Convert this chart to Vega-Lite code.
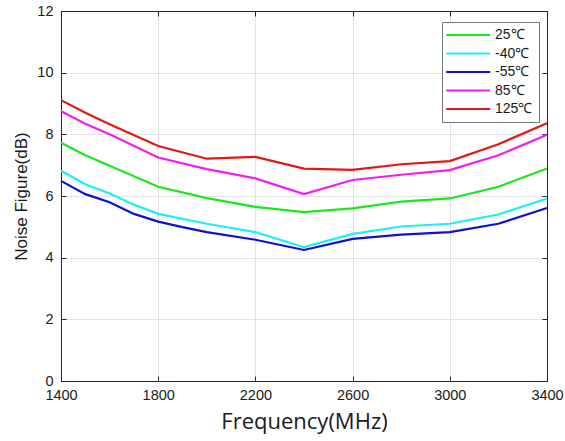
{
  "$schema": "https://vega.github.io/schema/vega-lite/v6.json",
  "autosize": "none",
  "width": 486,
  "height": 370,
  "padding": {"left": 61, "top": 11, "right": 18, "bottom": 60},
  "background": "white",
  "config": {
    "view": {"stroke": "#262626", "strokeWidth": 1},
    "axis": {
      "labelFont": "Liberation Sans",
      "labelFontSize": 14.5,
      "labelColor": "#1a1a1a",
      "domainColor": "#262626",
      "tickColor": "#262626",
      "gridColor": "#e3e3e3",
      "gridWidth": 1,
      "titleColor": "#1a1a1a",
      "titleFontWeight": "normal"
    }
  },
  "data": {
    "values": [
      {"f": 1400, "nf": 7.73, "t": "25℃"},
      {"f": 1500, "nf": 7.32, "t": "25℃"},
      {"f": 1600, "nf": 6.98, "t": "25℃"},
      {"f": 1800, "nf": 6.30, "t": "25℃"},
      {"f": 2000, "nf": 5.93, "t": "25℃"},
      {"f": 2200, "nf": 5.65, "t": "25℃"},
      {"f": 2400, "nf": 5.48, "t": "25℃"},
      {"f": 2600, "nf": 5.60, "t": "25℃"},
      {"f": 2800, "nf": 5.82, "t": "25℃"},
      {"f": 3000, "nf": 5.92, "t": "25℃"},
      {"f": 3200, "nf": 6.30, "t": "25℃"},
      {"f": 3400, "nf": 6.89, "t": "25℃"},
      {"f": 1400, "nf": 6.82, "t": "-40℃"},
      {"f": 1500, "nf": 6.38, "t": "-40℃"},
      {"f": 1600, "nf": 6.08, "t": "-40℃"},
      {"f": 1700, "nf": 5.72, "t": "-40℃"},
      {"f": 1800, "nf": 5.42, "t": "-40℃"},
      {"f": 2000, "nf": 5.10, "t": "-40℃"},
      {"f": 2200, "nf": 4.83, "t": "-40℃"},
      {"f": 2400, "nf": 4.34, "t": "-40℃"},
      {"f": 2600, "nf": 4.77, "t": "-40℃"},
      {"f": 2800, "nf": 5.01, "t": "-40℃"},
      {"f": 3000, "nf": 5.10, "t": "-40℃"},
      {"f": 3200, "nf": 5.40, "t": "-40℃"},
      {"f": 3400, "nf": 5.92, "t": "-40℃"},
      {"f": 1400, "nf": 6.49, "t": "-55℃"},
      {"f": 1500, "nf": 6.06, "t": "-55℃"},
      {"f": 1600, "nf": 5.80, "t": "-55℃"},
      {"f": 1700, "nf": 5.42, "t": "-55℃"},
      {"f": 1800, "nf": 5.17, "t": "-55℃"},
      {"f": 1900, "nf": 4.99, "t": "-55℃"},
      {"f": 2000, "nf": 4.83, "t": "-55℃"},
      {"f": 2200, "nf": 4.58, "t": "-55℃"},
      {"f": 2400, "nf": 4.25, "t": "-55℃"},
      {"f": 2600, "nf": 4.61, "t": "-55℃"},
      {"f": 2800, "nf": 4.75, "t": "-55℃"},
      {"f": 3000, "nf": 4.83, "t": "-55℃"},
      {"f": 3200, "nf": 5.10, "t": "-55℃"},
      {"f": 3400, "nf": 5.61, "t": "-55℃"},
      {"f": 1400, "nf": 8.75, "t": "85℃"},
      {"f": 1500, "nf": 8.34, "t": "85℃"},
      {"f": 1600, "nf": 8.00, "t": "85℃"},
      {"f": 1800, "nf": 7.25, "t": "85℃"},
      {"f": 2000, "nf": 6.87, "t": "85℃"},
      {"f": 2200, "nf": 6.57, "t": "85℃"},
      {"f": 2400, "nf": 6.06, "t": "85℃"},
      {"f": 2600, "nf": 6.52, "t": "85℃"},
      {"f": 2800, "nf": 6.69, "t": "85℃"},
      {"f": 3000, "nf": 6.84, "t": "85℃"},
      {"f": 3200, "nf": 7.32, "t": "85℃"},
      {"f": 3400, "nf": 7.99, "t": "85℃"},
      {"f": 1400, "nf": 9.11, "t": "125℃"},
      {"f": 1500, "nf": 8.70, "t": "125℃"},
      {"f": 1600, "nf": 8.33, "t": "125℃"},
      {"f": 1800, "nf": 7.62, "t": "125℃"},
      {"f": 2000, "nf": 7.21, "t": "125℃"},
      {"f": 2200, "nf": 7.27, "t": "125℃"},
      {"f": 2400, "nf": 6.89, "t": "125℃"},
      {"f": 2600, "nf": 6.85, "t": "125℃"},
      {"f": 2800, "nf": 7.03, "t": "125℃"},
      {"f": 3000, "nf": 7.13, "t": "125℃"},
      {"f": 3200, "nf": 7.68, "t": "125℃"},
      {"f": 3400, "nf": 8.36, "t": "125℃"}
    ]
  },
  "layer": [
    {
      "mark": {"type": "line", "strokeWidth": 2.2},
      "encoding": {
        "x": {
          "field": "f", "type": "quantitative",
          "scale": {"domain": [1400, 3400], "nice": false, "zero": false},
          "axis": {
            "values": [1400, 1800, 2200, 2600, 3000, 3400],
            "format": "d",
            "title": "Frequency(MHz)",
            "titleFont": "Open Sans",
            "titleFontSize": 22,
            "titlePadding": 10,
            "tickSize": -5,
            "labelPadding": 12,
            "grid": true,
            "labelFlush": false
          }
        },
        "y": {
          "field": "nf", "type": "quantitative",
          "scale": {"domain": [0, 12], "nice": false},
          "axis": {
            "values": [0, 2, 4, 6, 8, 10, 12],
            "format": "d",
            "title": "Noise Figure(dB)",
            "titleFont": "Liberation Sans",
            "titleFontSize": 17,
            "titlePadding": 6,
            "tickSize": -5,
            "labelPadding": 13,
            "grid": true
          }
        },
        "color": {
          "field": "t", "type": "nominal", "sort": null,
          "scale": {
            "domain": ["25℃", "-40℃", "-55℃", "85℃", "125℃"],
            "range": ["#1ee61e", "#1ef0f0", "#1010d0", "#f01ef0", "#e01818"]
          },
          "legend": {
            "title": null,
            "orient": "none",
            "legendX": 381,
            "legendY": 11,
            "symbolType": "M-1.6,0L6.4,0",
            "symbolSize": 121,
            "symbolStrokeWidth": 2.2,
            "symbolFillColor": "transparent",
            "labelOffset": 33,
            "labelFont": "Liberation Sans",
            "labelFontSize": 14,
            "labelColor": "#1a1a1a",
            "labelExpr": "datum.label + '    '",
            "rowPadding": 4.5,
            "padding": 6,
            "strokeColor": "#777777",
            "fillColor": "white"
          }
        }
      }
    },
    {
      "mark": {"type": "line", "opacity": 0},
      "encoding": {
        "x": {
          "field": "f", "type": "quantitative",
          "axis": {"orient": "top", "values": [1400, 1800, 2200, 2600, 3000, 3400], "labels": false, "title": null, "tickSize": -5, "grid": false}
        },
        "y": {
          "field": "nf", "type": "quantitative",
          "axis": {"orient": "right", "values": [0, 2, 4, 6, 8, 10, 12], "labels": false, "title": null, "tickSize": -5, "grid": false}
        },
        "detail": {"field": "t"}
      }
    }
  ],
  "resolve": {"axis": {"x": "independent", "y": "independent"}}
}
